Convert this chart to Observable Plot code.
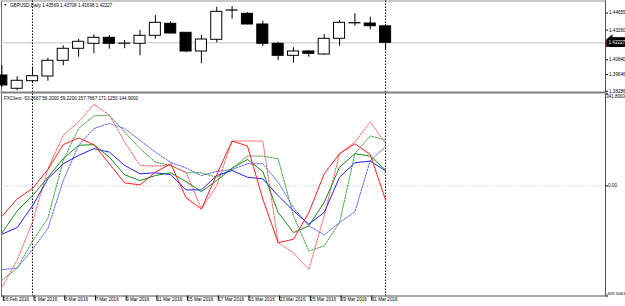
<!DOCTYPE html>
<html><head><meta charset="utf-8">
<script src="https://cdn.jsdelivr.net/npm/d3@7"></script>
<script src="https://cdn.jsdelivr.net/npm/@observablehq/plot@0.6"></script>
<style>
html,body{margin:0;padding:0;background:#fff;}
#chart{position:relative;width:625px;height:306px;overflow:hidden;background:#fff;}
#chart svg{position:absolute;left:0;overflow:visible;}
</style></head><body><div id="chart"></div>
<script>
// ---- data ----
const dates = ["26 Feb 2016","29 Feb 2016","1 Mar 2016","2 Mar 2016","3 Mar 2016","4 Mar 2016","7 Mar 2016","8 Mar 2016","9 Mar 2016","10 Mar 2016","11 Mar 2016","14 Mar 2016","15 Mar 2016","16 Mar 2016","17 Mar 2016","18 Mar 2016","21 Mar 2016","22 Mar 2016","23 Mar 2016","24 Mar 2016","25 Mar 2016","28 Mar 2016","29 Mar 2016","30 Mar 2016","31 Mar 2016","1 Apr 2016"];
const open  = [1.39565,1.38483,1.39101,1.39484,1.40762,1.41739,1.42146,1.42634,1.42150,1.42146,1.42797,1.43774,1.43041,1.41519,1.42471,1.44862,1.44588,1.43717,1.42146,1.41169,1.41519,1.41275,1.42553,1.43830,1.43798,1.43569];
const high  = [1.40379,1.39459,1.40216,1.40973,1.41983,1.42496,1.42878,1.42821,1.42414,1.43228,1.44449,1.43936,1.43060,1.42821,1.45125,1.45182,1.44669,1.43985,1.42276,1.41820,1.41600,1.42903,1.44042,1.44588,1.44311,1.43708];
const low   = [1.38588,1.38320,1.38914,1.39101,1.40355,1.41055,1.41332,1.41706,1.41739,1.41169,1.42520,1.42927,1.41413,1.40518,1.42227,1.44148,1.43690,1.41926,1.40786,1.40566,1.41055,1.41193,1.41950,1.43578,1.43285,1.41698];
const close = [1.38751,1.39134,1.39508,1.40762,1.41739,1.42308,1.42634,1.42146,1.42160,1.42797,1.43855,1.42984,1.41519,1.42496,1.44750,1.44850,1.43717,1.42146,1.41169,1.41519,1.41332,1.42553,1.43855,1.43810,1.43578,1.42227];

const redSolid   = [-113.8,-48.7,-9.0,61.0,153.5,178.2,153.5,82.4,11.2,3.7,50.9,82.4,-43.8,-86.1,42.3,167.0,148.3,-48.7,-211.2,-198.4,-98.8,44.9,119.8,156.5,117.2,-53.2667];
const blueSolid  = [-179.7,-155.0,-73.8,26.2,82.4,113.4,138.5,125.8,76.0,44.9,48.7,42.3,-15.0,-15.0,38.6,57.3,32.2,26.2,-36.3,-92.5,-142.3,-98.8,32.2,86.1,92.1,56.2];
const greenSolid = [-176.0,-92.5,-36.3,32.2,101.1,150.9,153.5,107.1,41.2,19.8,38.6,48.7,16.1,-21.3,19.8,65.9,98.5,53.5,-98.8,-173.7,-148.6,-61.4,69.6,119.8,110.8,59.22];
const redDot     = [-377,-276,-134,63.6,188.3,238.1,303.3,263.2,163.2,76.0,73.4,76.0,50.9,-86.1,1.1,167.0,167.0,167.0,-211.2,-249.7,-310.7,-111.2,119.8,163.2,238.1,157.7667];
const greenDot   = [-350.8,-306.0,-204.8,-120.6,94.7,213.4,260.6,263.2,200.7,138.5,88.4,76.0,48.7,48.7,32.2,64.8,110.8,110.8,101.1,-111.2,-242.2,-223.4,-136.3,119.8,185.7,171.125];
const blueDot    = [-311.5,-305.9,-235.9,-158.0,19.8,150.9,213.4,232.1,213.4,169.6,125.8,87.2,66.6,38.6,53.5,61.0,82.4,82.4,13.5,-81.2,-148.6,-182.3,-136.3,-96.2,94.7,144.9];

const dateTickIdx = [0,2,4,6,8,10,12,14,16,18,20,22,24];
const priceTicks = [1.44655,1.43260,1.40840,1.39646,1.38286];
const indTop = 341.8003, indZero = 0, indBottom = -409.5063;
const separatorIdx = [2,25];
const symbolName = "GBPUSD,Daily";
const indName = "FXClient";

// ---- build ----
const last = close.length - 1;
const candles = dates.map((d,i)=>({i, date:d, open:open[i], high:high[i], low:low[i], close:close[i]}));
const xScale = {type:"linear", domain:[0,25], range:[1.35,385.1], axis:null};
const font = {fontFamily:"'Liberation Sans', Arial, sans-serif", fontSize:"4.6px", background:"transparent", color:"#000", overflow:"visible"};
const sepStyle = {stroke:"#000", strokeDasharray:"1.5,1.5", dx:-0.08};

const pricePlot = Plot.plot({
  width:625, height:93, marginLeft:1, marginRight:20, marginTop:0.5, marginBottom:1,
  x: xScale,
  y: {domain:[1.38286,1.42227], range:[90.7,42.3], axis:null},
  style: font,
  marks: [
    Plot.frame({anchor:"top", stroke:"#909090"}),
    Plot.frame({anchor:"left", stroke:"#707070"}),
    Plot.ruleY([close[last]], {stroke:"#c4c4c4"}),
    Plot.ruleX(separatorIdx, sepStyle),
    Plot.ruleX(candles, {x:"i", y1:"low", y2:"high", stroke:"#000"}),
    Plot.rect(candles, {x1:d=>d.i-0.36, x2:d=>d.i+0.36, y1:"open", y2:"close",
      fill:d=>d.close>d.open?"#fff":"#000", stroke:"#000", strokeWidth:1}),
    Plot.frame({anchor:"bottom", stroke:"#808080", strokeWidth:2}),
    Plot.frame({anchor:"right", stroke:"#505050"}),
    Plot.axisY(priceTicks, {anchor:"right", tickSize:2, tickPadding:1.5, tickFormat:d=>d.toFixed(5), stroke:"#000"}),
    Plot.text([close[last]], {y:d=>d, frameAnchor:"right", dx:3, textAnchor:"start", text:d=>d.toFixed(5),
      fill:"#fff", stroke:"#000", strokeWidth:5.5, strokeLinejoin:"miter", paintOrder:"stroke"}),
    Plot.text(["▼"], {frameAnchor:"top-left", dx:2, dy:2.8, lineAnchor:"top", fontSize:3.6}),
    Plot.text([`${symbolName} ${open[last].toFixed(5)} ${high[last].toFixed(5)} ${low[last].toFixed(5)} ${close[last].toFixed(5)}`],
      {frameAnchor:"top-left", dx:8.5, dy:2.5, lineAnchor:"top", textAnchor:"start", fill:"#000"})
  ]
});
pricePlot.style.top = "0px";

const dotted = "1.6,1.4";
const indPlot = Plot.plot({
  width:625, height:213, marginLeft:1, marginRight:20, marginTop:0.5, marginBottom:10.5,
  x: xScale,
  y: {domain:[indBottom, indTop], range:[202.5,0.5], axis:null},
  style: font,
  marks: [
    Plot.ruleY([indZero], {stroke:"#c0c0c0", strokeDasharray:"1,2"}),
    Plot.ruleX(separatorIdx, sepStyle),
    Plot.lineY(blueDot,  {stroke:"#5a5aff", strokeDasharray:dotted, strokeWidth:1}),
    Plot.lineY(greenDot, {stroke:"#3c9c3c", strokeDasharray:dotted, strokeWidth:1}),
    Plot.lineY(redDot,   {stroke:"#ff5a5a", strokeDasharray:dotted, strokeWidth:1}),
    Plot.lineY(blueSolid,  {stroke:"#2020ff", strokeWidth:1}),
    Plot.lineY(greenSolid, {stroke:"#1a8a1a", strokeWidth:1}),
    Plot.lineY(redSolid,   {stroke:"#ff2020", strokeWidth:1}),
    Plot.frame({anchor:"left", stroke:"#707070"}),
    Plot.frame({anchor:"bottom", stroke:"#505050"}),
    Plot.frame({anchor:"right", stroke:"#505050"}),
    Plot.axisX(dateTickIdx, {anchor:"bottom", tickSize:5, tickPadding:-3, tickFormat:i=>dates[i], textAnchor:"start", dx:1.5, stroke:"#000"}),
    Plot.axisY([indTop, indZero, indBottom], {anchor:"right", tickSize:2, tickFormat:()=>"", stroke:"#000"}),
    Plot.text([indTop], {y:d=>d, frameAnchor:"right", dx:0.8, dy:0.8, textAnchor:"start", lineAnchor:"top", fontSize:4.5, text:d=>d.toFixed(4)}),
    Plot.text([indZero], {y:d=>d, frameAnchor:"right", dx:2.5, textAnchor:"start", lineAnchor:"middle", text:d=>d.toFixed(2)}),
    Plot.text([indBottom], {y:d=>d, frameAnchor:"right", dx:0.2, dy:-0.6, textAnchor:"start", lineAnchor:"bottom", fontSize:4.4, text:d=>d.toFixed(4)}),
    Plot.text([`${indName} ${redSolid[last].toFixed(4)} ${blueSolid[last].toFixed(4)} ${greenSolid[last].toFixed(4)} ${redDot[last].toFixed(4)} ${greenDot[last].toFixed(4)} ${blueDot[last].toFixed(4)}`],
      {frameAnchor:"top-left", dx:2.5, dy:2.3, lineAnchor:"top", textAnchor:"start", fill:"#000"})
  ]
});
indPlot.style.top = "93px";

const c = document.getElementById("chart");
c.appendChild(pricePlot);
c.appendChild(indPlot);
</script>
</body></html>
